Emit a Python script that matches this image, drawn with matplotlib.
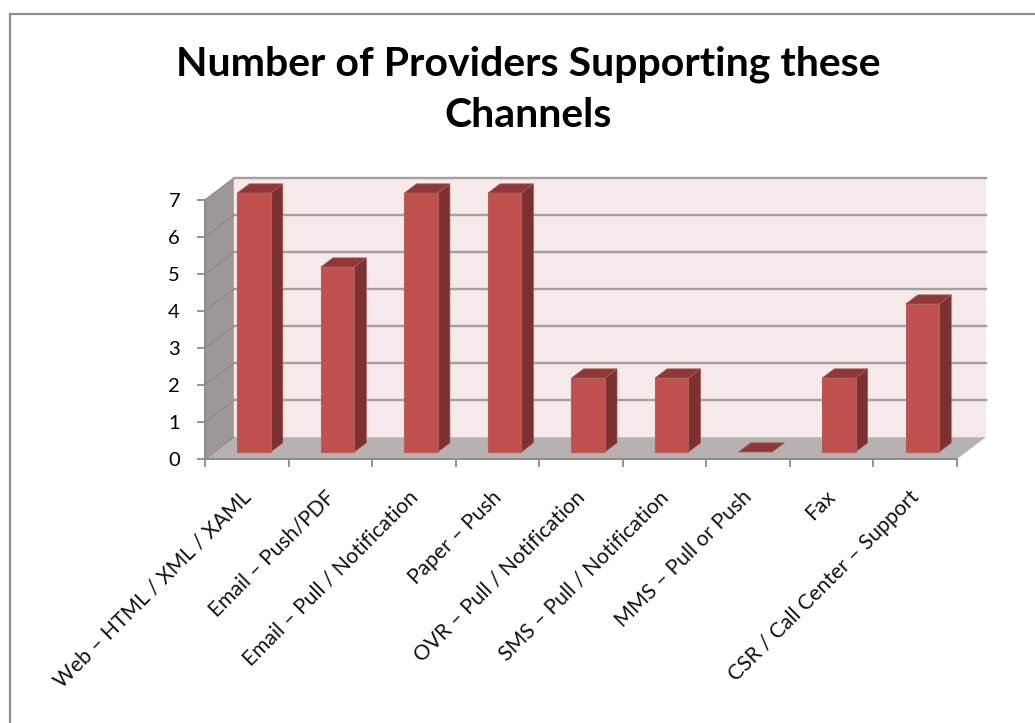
import matplotlib
matplotlib.use("Agg")
import matplotlib.pyplot as plt
from matplotlib.patches import Polygon

channels = [
    "Web \u2013 HTML / XML / XAML",
    "Email \u2013 Push/PDF",
    "Email \u2013 Pull / Notification",
    "Paper \u2013 Push",
    "OVR \u2013 Pull / Notification",
    "SMS \u2013 Pull / Notification",
    "MMS \u2013 Pull or Push",
    "Fax",
    "CSR / Call Center \u2013 Support",
]
providers = [7, 5, 7, 7, 2, 2, 0, 2, 4]
y_ticks = [0, 1, 2, 3, 4, 5, 6, 7]
title = "Number of Providers Supporting these\nChannels"

W, H = 1035, 723
FRONT_L, FRONT_R, FRONT_B, FRONT_T = 205, 957, 459, 200

# 3d look: floor depth in data units, bar front plane and bar depth as fractions of it
DX = 0.345
DY = 0.59
BAR_W = 0.40
BAR_FRONT_X = 0.25
BAR_FRONT_Y = 0.32
BAR_DEPTH = 0.42

plt.rcParams["font.family"] = ["Lato", "DejaVu Sans"]

fig = plt.figure(figsize=(W / 100, H / 100), dpi=100)

# frame around the chart, open at the bottom and right
border = dict(color="#8f8f8f", linewidth=1.6, transform=fig.transFigure)
fig.add_artist(plt.Line2D([10 / W, 10 / W], [0, 1 - 14 / H], **border))
fig.add_artist(plt.Line2D([10 / W, 1], [1 - 14 / H, 1 - 14 / H], **border))

ax = fig.add_axes([FRONT_L / W, 1 - FRONT_B / H, (FRONT_R - FRONT_L) / W, (FRONT_B - FRONT_T) / H])
ax.set_xlim(0, len(channels))
ax.set_ylim(0, 7)
ax.patch.set_alpha(0)
for name in ["top", "right"]:
    ax.spines[name].set_visible(False)
for name in ["left", "bottom"]:
    ax.spines[name].set_color("#8c8c8c")
    ax.spines[name].set_linewidth(1.4)

n = len(channels)
top = y_ticks[-1]

# back wall, side wall, floor
ax.add_patch(Polygon([(DX, DY), (n + DX, DY), (n + DX, top + DY), (DX, top + DY)],
                     facecolor="#f5e9e9", edgecolor="none", clip_on=False, zorder=1))
ax.add_patch(Polygon([(0, 0), (DX, DY), (DX, top + DY), (0, top)],
                     facecolor="#9c9898", edgecolor="none", clip_on=False, zorder=1))
ax.add_patch(Polygon([(0, 0), (n, 0), (n + DX, DY), (DX, DY)],
                     facecolor="#b8b1b1", edgecolor="none", clip_on=False, zorder=1))

# gridlines wrap from the side wall onto the back wall
for v in y_ticks:
    if v > 0:
        ax.plot([DX, n + DX], [v + DY, v + DY], color="#a3a09f", lw=1.7, clip_on=False, zorder=2)
    ax.plot([0, DX], [v, v + DY], color="#8f8c8b", lw=1.0, clip_on=False, zorder=2)

# bars
ox = DX * BAR_FRONT_X
oy = DY * BAR_FRONT_Y
bx = DX * BAR_DEPTH
by = DY * BAR_DEPTH
for i, v in enumerate(providers):
    x0 = i + 0.5 - BAR_W / 2 + ox
    x1 = x0 + BAR_W
    y0 = oy
    y1 = v + oy
    ax.add_patch(Polygon([(x1, y0), (x1 + bx, y0 + by), (x1 + bx, y1 + by), (x1, y1)],
                         facecolor="#7c3130", edgecolor="#a65a58", lw=0.5, clip_on=False, zorder=3))
    ax.add_patch(Polygon([(x0, y1), (x1, y1), (x1 + bx, y1 + by), (x0 + bx, y1 + by)],
                         facecolor="#8f3836", edgecolor="#a65a58", lw=0.5, clip_on=False, zorder=3))
    if v > 0:
        ax.add_patch(Polygon([(x0, y0), (x1, y0), (x1, y1), (x0, y1)],
                             facecolor="#c0504d", edgecolor="#b2605c", lw=0.8, clip_on=False, zorder=4))

ax.set_yticks(y_ticks)
ax.set_xticks(range(n + 1))
ax.set_xticklabels([""] * (n + 1))
ax.tick_params(axis="both", length=6, width=1.3, color="#8c8c8c", labelsize=14.5, pad=12)

# rotated category labels end just under the middle of each slot
for i, label in enumerate(channels):
    ax.annotate(label, (i + 0.5, 0), xytext=(-4.5, -20), textcoords="offset points", rotation=45,
                ha="right", va="top", rotation_mode="anchor", fontsize=15.2, color="#111111")

fig.text(528 / W, 1 - 90 / H, title, ha="center", va="center", fontsize=29.5, fontweight="bold",
         linespacing=1.46, color="black")

fig.savefig("out.png", dpi=100)
